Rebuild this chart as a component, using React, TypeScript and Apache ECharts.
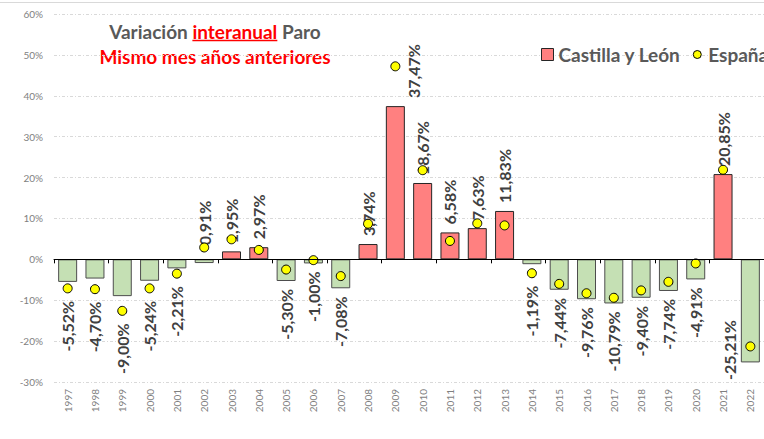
import React, { useEffect, useRef } from "react";
import * as echarts from "echarts";

const years = [
  "1997", "1998", "1999", "2000", "2001", "2002", "2003", "2004", "2005",
  "2006", "2007", "2008", "2009", "2010", "2011", "2012", "2013", "2014",
  "2015", "2016", "2017", "2018", "2019", "2020", "2021", "2022",
];

const castillaLeon = [
  -5.52, -4.7, -9.0, -5.24, -2.21, -0.91, 1.95, 2.97, -5.3, -1.0, -7.08, 3.74,
  37.47, 18.67, 6.58, 7.63, 11.83, -1.19, -7.44, -9.76, -10.79, -9.4, -7.74,
  -4.91, 20.85, -25.21,
];

const espana = [
  -7.1, -7.3, -12.6, -7.1, -3.5, 2.9, 4.9, 2.3, -2.5, -0.2, -4.1, 8.7, 47.2,
  21.8, 4.5, 8.8, 8.3, -3.4, -6.0, -8.3, -9.4, -7.6, -5.5, -1.0, 21.9, -21.3,
];

const yMin = -30;
const yMax = 60;
const yStep = 10;

const FONT = "Lato, 'Liberation Sans', sans-serif";
const TITLE_SIZE = 19;

const fmt = (v: number) => v.toFixed(2).replace(".", ",") + "%";

function measure(text: string, font: string): number {
  const c = document.createElement("canvas");
  const ctx = c.getContext("2d");
  if (!ctx) return text.length * 9;
  ctx.font = font;
  return ctx.measureText(text).width;
}

export default function App() {
  const ref = useRef<HTMLDivElement>(null);

  useEffect(() => {
    if (!ref.current) return;
    const chart = echarts.init(ref.current, undefined, { renderer: "svg" });

    const titleFont = `bold ${TITLE_SIZE}px Lato`;
    const t1 = "Variación ";
    const t2 = "interanual";
    const t3 = " Paro";
    const w1 = measure(t1, titleFont);
    const w2 = measure(t2, titleFont);
    const w3 = measure(t3, titleFont);
    const titleCx = 215;
    const start = titleCx - (w1 + w2 + w3) / 2;

    const barData = castillaLeon.map((v, i) => {
      const d = espana[i];
      let label: any;
      if (v > -1) {
        label = { position: "top", align: "left", verticalAlign: "middle" };
        if (d - v > 5) label.offset = [0, 18];
      } else if (v < -20) {
        label = {
          position: [-3, "88%"],
          align: "center",
          verticalAlign: "bottom",
        };
      } else {
        // below the lower of the bar end and the España marker
        const lowest = Math.min(v, d);
        const pct = (100 * lowest) / v;
        label = {
          position: ["50%", pct + "%"],
          align: "right",
          verticalAlign: "middle",
          offset: [d < v ? -12.5 : -8, 0],
        };
      }
      return {
        value: v,
        itemStyle: {
          color: v >= 0 ? "#FF8080" : "#C5E0B4",
          borderColor: v >= 0 ? "#262626" : "#4d4d4d",
        },
        label,
      };
    });

    chart.setOption({
      animation: false,
      textStyle: { fontFamily: FONT },
      grid: { left: 54, top: 14, width: 714, height: 368 },
      legend: {
        left: 541,
        top: 45,
        width: 500,
        padding: 0,
        itemWidth: 12,
        itemHeight: 12,
        itemGap: 10,
        textStyle: {
          fontFamily: FONT,
          fontSize: 19,
          fontWeight: "bold",
          color: "#595959",
        },
        data: [
          {
            name: "Castilla y León",
            icon: "rect",
            itemStyle: { color: "#FF8080", borderColor: "#262626", borderWidth: 1 },
          },
          {
            name: "España",
            icon: "path://M0,0L0,0M12,12L12,12M6,2A4,4,0,1,1,6,10A4,4,0,1,1,6,2Z",
            itemStyle: { color: "#FFFF00", borderColor: "#000", borderWidth: 1 },
          },
        ],
      },
      xAxis: [
        {
          type: "category",
          data: years,
          position: "bottom",
          axisLine: { onZero: true, lineStyle: { color: "#000", width: 1 } },
          axisTick: { show: true, length: 4, lineStyle: { color: "#000" } },
          axisLabel: { show: false },
          splitLine: { show: false },
          z: 5,
        },
        {
          type: "category",
          data: years,
          position: "bottom",
          axisLine: { show: false, onZero: false },
          axisTick: { show: false },
          axisLabel: {
            rotate: 90,
            margin: 7,
            fontSize: 10,
            color: "#7f7f7f",
            fontFamily: FONT,
          },
        },
      ],
      yAxis: {
        type: "value",
        min: yMin,
        max: yMax,
        interval: yStep,
        axisLine: { show: false },
        axisTick: { show: false },
        axisLabel: {
          formatter: "{value}%",
          fontSize: 10,
          color: "#7f7f7f",
          margin: 11,
          fontFamily: FONT,
        },
        splitLine: {
          lineStyle: { color: "#d9d9d9", type: [3, 2, 1, 2], width: 1 },
        },
      },
      graphic: [
        {
          type: "line",
          shape: { x1: 0, y1: 2.5, x2: 764, y2: 2.5 },
          style: { stroke: "#d9d9d9", lineWidth: 1 },
          silent: true,
        },
        {
          type: "text",
          x: titleCx,
          y: 31,
          style: {
            text: "{g|" + t1 + "}{r|" + t2 + "}{g|" + t3 + "}",
            align: "center",
            verticalAlign: "middle",
            rich: {
              g: {
                fontFamily: FONT,
                fontSize: TITLE_SIZE,
                fontWeight: "bold",
                fill: "#595959",
                color: "#595959",
              },
              r: {
                fontFamily: FONT,
                fontSize: TITLE_SIZE,
                fontWeight: "bold",
                fill: "#FF0000",
                color: "#FF0000",
              },
            },
          },
        },
        {
          type: "line",
          shape: { x1: start + w1, y1: 40.5, x2: start + w1 + w2, y2: 40.5 },
          style: { stroke: "#FF0000", lineWidth: 1.5 },
          silent: true,
        },
        {
          type: "text",
          x: titleCx,
          y: 56,
          style: {
            text: "Mismo mes años anteriores",
            align: "center",
            verticalAlign: "middle",
            fontFamily: FONT,
            fontSize: TITLE_SIZE,
            fontWeight: "bold",
            fill: "#FF0000",
          },
        },
      ],
      series: [
        {
          name: "Castilla y León",
          type: "bar",
          xAxisIndex: 0,
          barWidth: 19,
          data: barData,
          itemStyle: { borderWidth: 1 },
          label: {
            show: true,
            rotate: 90,
            distance: 8,
            fontFamily: FONT,
            fontSize: 16,
            fontWeight: "bold",
            color: "#404040",
            formatter: (p: any) => fmt(p.value),
          },
          z: 2,
        },
        {
          name: "España",
          type: "scatter",
          xAxisIndex: 0,
          data: espana,
          symbol: "circle",
          symbolSize: 9,
          itemStyle: { color: "#FFFF00", borderColor: "#000", borderWidth: 1, opacity: 1 },
          z: 4,
        },
      ],
    });

    return () => chart.dispose();
  }, []);

  return (
    <div
      ref={ref}
      style={{ position: "absolute", left: 0, top: 0, width: 764, height: 439, background: "#fff" }}
    />
  );
}
